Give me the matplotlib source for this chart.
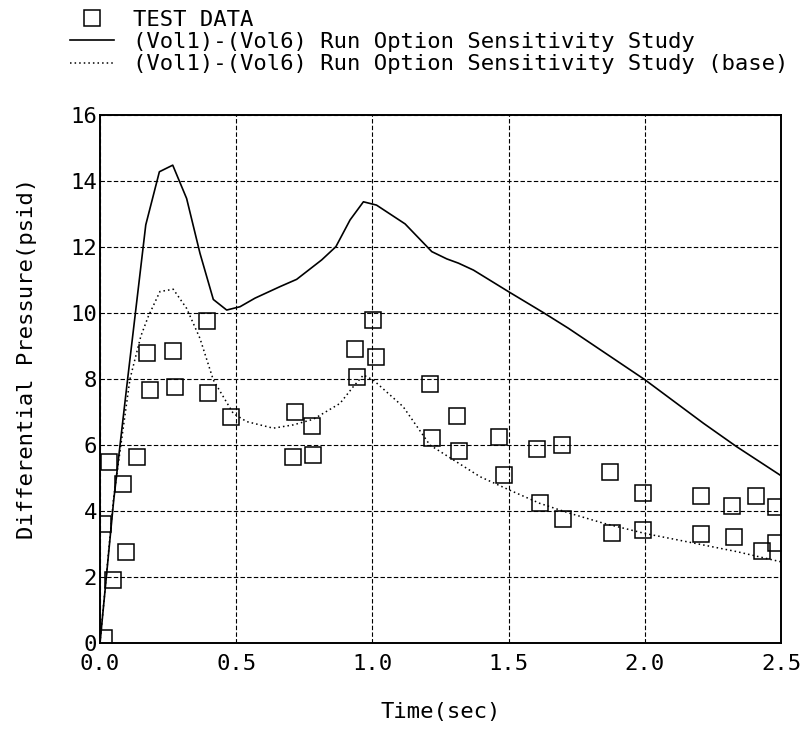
import matplotlib
matplotlib.use("Agg")
import matplotlib.pyplot as plt
import numpy as np

plt.rcParams['font.family'] = ['DejaVu Sans Mono']

# test data (time, dp)
test_t = [0.015, 0.049, 0.012, 0.034, 0.086, 0.094, 0.134, 0.171, 0.184, 0.269,
          0.275, 0.392, 0.395, 0.48, 0.71, 0.716, 0.78, 0.783, 0.937, 0.942,
          1.003, 1.015, 1.213, 1.218, 1.312, 1.319, 1.466, 1.484, 1.603, 1.617,
          1.695, 1.701, 1.872, 1.88, 1.992, 1.995, 2.206, 2.206, 2.321, 2.327,
          2.408, 2.429, 2.482, 2.482]
test_dp = [0.14, 1.90, 3.61, 5.48, 4.82, 2.77, 5.65, 8.78, 7.68, 8.86,
           7.77, 9.77, 7.57, 6.84, 5.63, 7.01, 6.59, 5.70, 8.92, 8.07,
           9.79, 8.68, 7.85, 6.20, 6.89, 5.83, 6.23, 5.08, 5.88, 4.23,
           6.01, 3.77, 5.18, 3.34, 4.55, 3.42, 4.45, 3.29, 4.15, 3.22,
           4.44, 2.78, 4.13, 3.04]

# run option sensitivity study
run_t = [0.0, 0.05, 0.10, 0.168, 0.218, 0.267, 0.318, 0.367, 0.416, 0.465,
         0.514, 0.569, 0.661, 0.722, 0.814, 0.866, 0.918, 0.967, 1.015, 1.12,
         1.218, 1.273, 1.316, 1.371, 1.499, 1.628, 1.719, 2.0, 2.215, 2.337, 2.5]
run_dp = [0.0, 4.3, 7.9, 12.67, 14.28, 14.48, 13.47, 11.81, 10.41, 10.09,
          10.19, 10.45, 10.80, 11.02, 11.61, 12.01, 12.82, 13.37, 13.27, 12.70,
          11.86, 11.64, 11.51, 11.30, 10.65, 10.01, 9.54, 7.98, 6.66, 5.95, 5.07]

# base case
base_t = [0.0, 0.05, 0.11, 0.15, 0.177, 0.220, 0.269, 0.318, 0.367, 0.416,
          0.489, 0.538, 0.636, 0.71, 0.783, 0.881, 0.93, 0.967, 1.003, 1.113,
          1.211, 1.297, 1.395, 1.499, 1.615, 1.725, 1.848, 2.0, 2.154, 2.337, 2.5]
base_dp = [0.0, 4.4, 8.0, 9.3, 9.89, 10.65, 10.72, 10.14, 9.23, 7.97,
           6.96, 6.71, 6.51, 6.61, 6.78, 7.26, 7.77, 8.12, 7.97, 7.16,
           6.0, 5.55, 5.04, 4.65, 4.23, 3.93, 3.63, 3.32, 3.07, 2.77, 2.46]

fs = 16

fig = plt.figure(figsize=(8.04, 7.29), dpi=100)
ax = fig.add_axes([100/804, 1-643/729, 681/804, 528/729])

ax.plot(test_t, test_dp, linestyle='none', marker='s', ms=11, mfc='none',
        mec='black', mew=1.1, label='TEST DATA', zorder=3)
ax.plot(run_t, run_dp, color='black', lw=1.2,
        label='(Vol1)-(Vol6) Run Option Sensitivity Study')
ax.plot(base_t, base_dp, color='black', lw=1.1, linestyle=(0, (1.0, 2.0)),
        label='(Vol1)-(Vol6) Run Option Sensitivity Study (base)')

ax.set_xlim(0, 2.5)
ax.set_ylim(0, 16)
ax.set_xticks(np.arange(0, 2.51, 0.5))
ax.set_xticklabels(['0.0', '0.5', '1.0', '1.5', '2.0', '2.5'])
ax.set_yticks(np.arange(0, 17, 2))
ax.tick_params(length=0, labelsize=fs)
ax.tick_params(axis='x', pad=8)
ax.tick_params(axis='y', pad=2)
ax.grid(True, color='black', lw=0.8, linestyle=(0, (4, 2)))
for sp in ax.spines.values():
    sp.set_linewidth(1.4)

ax.set_xlabel('Time(sec)', fontsize=fs)
ax.xaxis.set_label_coords(0.5, (643-722)/528)
ax.xaxis.label.set_va('bottom')
ax.set_ylabel('Differential Pressure(psid)', fontsize=fs)
ax.yaxis.set_label_coords((37-100)/681, (643-358)/528)

fig.legend(loc='upper left', bbox_to_anchor=(70/804, 1-10/729), frameon=False,
           fontsize=fs, handlelength=2.0, handletextpad=0.85,
           labelspacing=0.1, borderpad=0, borderaxespad=0)

fig.savefig('out.png', dpi=100)
